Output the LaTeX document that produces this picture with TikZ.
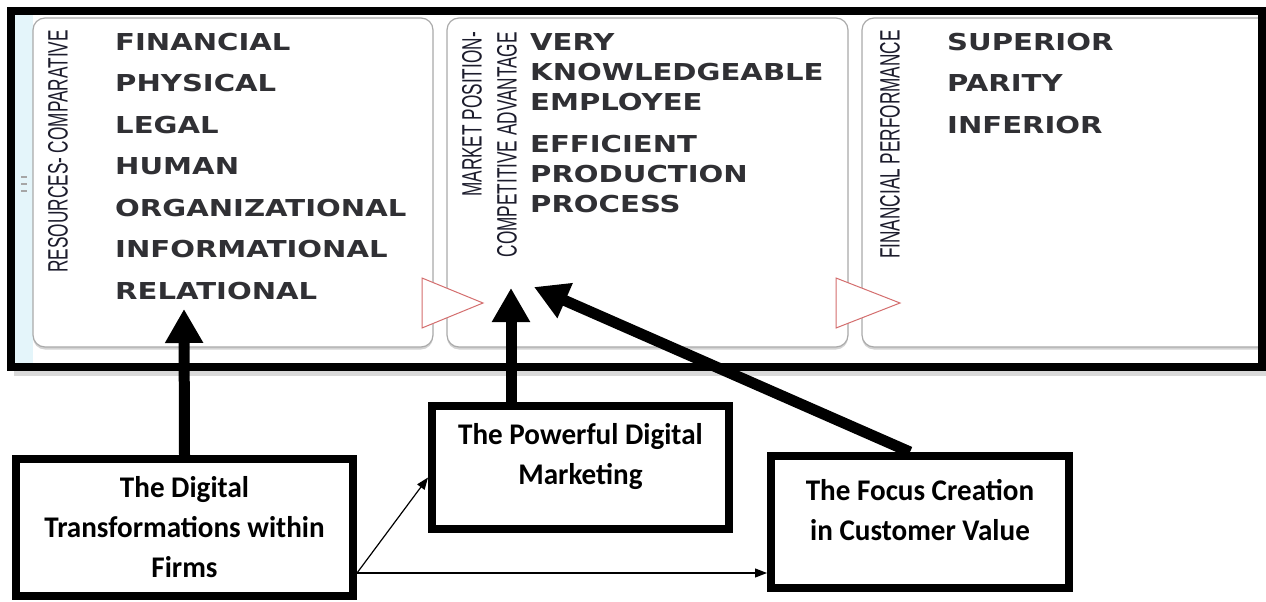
\documentclass[tikz,border=0pt]{standalone}
\usepackage{fontspec}
\usetikzlibrary{arrows.meta,shadows}
\newfontfamily\itemfont[FakeStretch=1.25]{DejaVu Sans}
\newfontfamily\sidefont[FakeStretch=0.615]{Liberation Sans}
\newfontfamily\boxfont[FakeStretch=0.97]{Carlito}
\definecolor{itemgray}{RGB}{48,48,52}
\definecolor{sidenavy}{RGB}{28,28,44}
\definecolor{panelgray}{RGB}{170,170,170}
\definecolor{stripcyan}{RGB}{228,245,250}
\definecolor{tipred}{RGB}{212,110,110}
\begin{document}
\begin{tikzpicture}[x=1pt,y=-1pt,
    panel/.style={draw=panelgray, line width=1.2pt, fill=white, rounded corners=12pt,
        drop shadow={shadow xshift=0pt, shadow yshift=-2.5pt, opacity=0.35}},
    nexttip/.style={draw=tipred, line width=1pt, fill=white},
    item/.style={anchor=north west, inner sep=0pt, align=left, text=itemgray,
        font=\itemfont\bfseries\fontsize{23.3}{30}\selectfont},
    sidelabel/.style={rotate=90, anchor=east, inner sep=0pt, text=sidenavy,
        font=\sidefont\fontsize{28}{30}\selectfont},
    box/.style={draw, line width=8pt, fill=white, inner sep=0pt},
    boxtext/.style={align=center, inner sep=0pt, font=\boxfont\bfseries\fontsize{30}{40}\selectfont},
    bigarrow/.style={line width=11pt, -{Triangle[length=34pt,width=36pt]}},
    thinarrow/.style={line width=1.2pt, -{Triangle[length=12pt,width=9pt]}}
]
    \useasboundingbox (0,0) rectangle (1266,602);

    % left strip and panels
    \fill[stripcyan] (15,15) rectangle (33,363);
    \foreach \g in {176,183,190}
        \fill[gray!70] (21,\g) rectangle (27,\g+2);
    \draw[panel] (33,18) rectangle (433,347);
    \draw[panel] (447,18) rectangle (848,347);
    \draw[panel] (862,18) rectangle (1275,347);
    \draw[nexttip] (422,278) -- (483,303) -- (422,328) -- cycle;
    \draw[nexttip] (836,278) -- (900,303) -- (836,328) -- cycle;

    % panel texts
    \node[sidelabel] (resLabel) at (58,30) {RESOURCES- COMPARATIVE};
    \node[sidelabel] (mpLabel) at (472,32) {MARKET POSITION-};
    \node[sidelabel] (caLabel) at (507,32) {COMPETITIVE ADVANTAGE};
    \node[sidelabel] (fpLabel) at (890,30) {FINANCIAL PERFORMANCE};

    \foreach \word [count=\i from 0] in {FINANCIAL,PHYSICAL,LEGAL,HUMAN,ORGANIZATIONAL,INFORMATIONAL,RELATIONAL}
        \node[item] (res\i) at (115,33+41.5*\i) {\word};
    \node[item] (employee) at (530,33) {VERY\\KNOWLEDGEABLE\\EMPLOYEE};
    \node[item] (process) at (530,135) {EFFICIENT\\PRODUCTION\\PROCESS};
    \foreach \word [count=\i from 0] in {SUPERIOR,PARITY,INFERIOR}
        \node[item] (fin\i) at (947,33+41.5*\i) {\word};

    % frame
    \fill[black!15] (14,371) rectangle (1266,376);
    \draw[line width=8pt] (11,11) rectangle (1262,367);

    % boxes below
    \node[box, minimum width=337pt, minimum height=137pt] (digital) at (184.5,527.5) {};
    \node[boxtext] (digitalText) at (digital.center) {The Digital\\Transformations within\\Firms};
    \node[box, minimum width=297pt, minimum height=123pt] (marketing) at (580.5,467.5) {};
    \node[boxtext] (marketingText) at ([yshift=11pt]marketing.center) {The Powerful Digital\\Marketing};
    \node[box, minimum width=298pt, minimum height=132pt] (customer) at (920,522) {};
    \node[boxtext] (customerText) at ([yshift=12pt]customer.center) {The Focus Creation\\in Customer Value};

    % arrows
    \coordinate (resTip) at (184,309);
    \coordinate (mpTip) at (511,288);
    \coordinate (caTip) at (534,287);
    \coordinate (split) at ([yshift=27pt]digital.south east);

    \draw[bigarrow] (digital.north) -- (resTip);
    \draw[bigarrow] (mpTip |- marketing.north) -- (mpTip);
    \draw[bigarrow] ([xshift=-10pt]customer.north) -- (caTip);
    \draw[thinarrow] (split) -- ([yshift=-10pt]marketing.west);
    \draw[thinarrow] (split) -- (split -| customer.west);
\end{tikzpicture}
\end{document}
